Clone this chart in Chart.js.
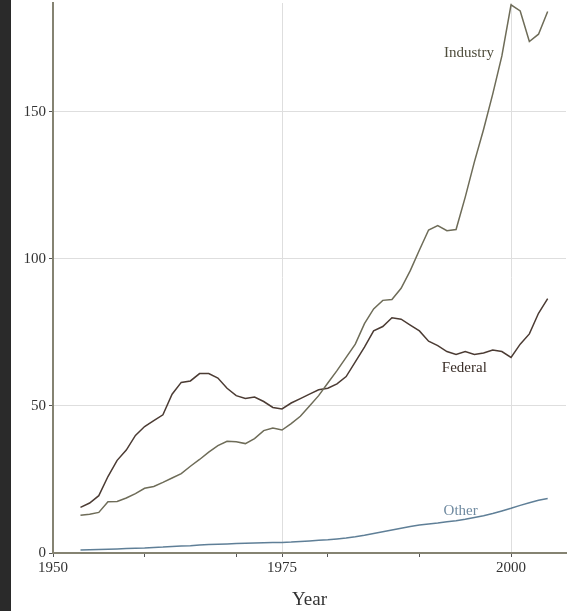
<!DOCTYPE html>
<html>
<head>
<meta charset="utf-8">
<script src="https://cdn.jsdelivr.net/npm/chart.js@4"></script>
<style>
  html, body { margin: 0; padding: 0; background: #fff; }
  #wrap { position: relative; width: 567px; height: 611px; }
  #edge { position: absolute; left: 0; top: 0; width: 11px; height: 611px; background: #2a2a2a; }
</style>
</head>
<body>
<div id="wrap">
  <canvas id="rdChart" width="567" height="611"></canvas>
  <div id="edge"></div>
</div>
<script>
const years = [
  1953, 1954, 1955, 1956, 1957, 1958, 1959, 1960, 1961, 1962,
  1963, 1964, 1965, 1966, 1967, 1968, 1969, 1970, 1971, 1972,
  1973, 1974, 1975, 1976, 1977, 1978, 1979, 1980, 1981, 1982,
  1983, 1984, 1985, 1986, 1987, 1988, 1989, 1990, 1991, 1992,
  1993, 1994, 1995, 1996, 1997, 1998, 1999, 2000, 2001, 2002,
  2003, 2004
];

const industry = [
  12.8, 13.2, 13.8, 17.4, 17.5, 18.7, 20.2, 22.0, 22.6, 24.0,
  25.5, 27.0, 29.5, 31.8, 34.3, 36.5, 38.0, 37.8, 37.2, 38.9,
  41.6, 42.5, 41.8, 44.0, 46.5, 50.0, 53.5, 57.8, 62.0, 66.5,
  71.0, 78.0, 83.0, 85.9, 86.2, 90.0, 96.0, 103.0, 109.8, 111.3,
  109.6, 110.0, 121.0, 133.0, 144.0, 156.0, 169.0, 186.4, 184.3, 173.9,
  176.4, 184.1
];

const federal = [
  15.5, 17.0, 19.5, 26.0, 31.5, 35.0, 40.0, 43.0, 45.0, 47.0,
  54.0, 58.0, 58.5, 61.0, 61.0, 59.5, 56.0, 53.5, 52.5, 53.0,
  51.5, 49.5, 49.0, 51.0, 52.5, 54.0, 55.5, 56.0, 57.5, 60.0,
  65.0, 70.0, 75.5, 77.0, 80.0, 79.5, 77.5, 75.5, 72.0, 70.5,
  68.5, 67.5, 68.5, 67.5, 68.0, 69.0, 68.5, 66.5, 71.0, 74.5,
  81.5, 86.5
];

const other = [
  1.0, 1.1, 1.2, 1.3, 1.4, 1.5, 1.6, 1.7, 1.9, 2.0,
  2.2, 2.4, 2.5, 2.7, 2.9, 3.0, 3.1, 3.2, 3.3, 3.4,
  3.5, 3.6, 3.6, 3.7, 3.9, 4.1, 4.3, 4.5, 4.8, 5.1,
  5.5, 6.0, 6.6, 7.2, 7.8, 8.4, 9.0, 9.5, 9.9, 10.2,
  10.6, 11.0, 11.5, 12.1, 12.7, 13.4, 14.3, 15.2, 16.2, 17.1,
  17.9, 18.5
];

const xTicks = [1950, 1960, 1970, 1975, 1980, 1990, 2000];
const xLabelled = [1950, 1975, 2000];
const yTicks = [0, 50, 100, 150];

const serif = '"Liberation Serif", "DejaVu Serif", serif';
const axisColor = '#858372';
const gridColor = '#dedede';

const toPoints = (vals) => vals.map((v, i) => ({ x: years[i], y: v }));

// series names written next to their lines, anchored in data units
const seriesLabels = {
  id: 'seriesLabels',
  afterDatasetsDraw(chart) {
    const { ctx, scales: { x, y } } = chart;
    const items = [
      { text: 'Industry', year: 1995.4, value: 170, color: '#4f4d3c' },
      { text: 'Federal', year: 1994.9, value: 62.8, color: '#3a2e28' },
      { text: 'Other', year: 1994.5, value: 14.3, color: '#6f8aa0' }
    ];
    ctx.save();
    ctx.font = '15px ' + serif;
    ctx.textAlign = 'center';
    ctx.textBaseline = 'middle';
    items.forEach(item => {
      ctx.fillStyle = item.color;
      ctx.fillText(item.text, x.getPixelForValue(item.year), y.getPixelForValue(item.value));
    });
    ctx.restore();
  }
};

const ctx = document.getElementById('rdChart').getContext('2d');

new Chart(ctx, {
  type: 'line',
  data: {
    datasets: [
      { label: 'Industry', data: toPoints(industry), borderColor: '#6e6c58' },
      { label: 'Federal', data: toPoints(federal), borderColor: '#4b3b33' },
      { label: 'Other', data: toPoints(other), borderColor: '#5f7f97' }
    ]
  },
  options: {
    responsive: false,
    devicePixelRatio: 1,
    animation: false,
    layout: { padding: { top: 3, right: 1, left: 0, bottom: 0 } },
    elements: {
      point: { radius: 0 },
      line: { borderWidth: 1.5, tension: 0 }
    },
    plugins: {
      legend: { display: false },
      tooltip: { enabled: false }
    },
    scales: {
      x: {
        type: 'linear',
        min: 1950,
        max: 2006,
        afterBuildTicks: (scale) => { scale.ticks = xTicks.map(v => ({ value: v })); },
        afterFit: (scale) => { scale.height = 58; },
        border: { color: axisColor, width: 2 },
        grid: {
          color: (c) => (c.tick && (c.tick.value === 1975 || c.tick.value === 2000)) ? gridColor : 'rgba(0,0,0,0)',
          tickColor: '#555',
          tickLength: 4
        },
        ticks: {
          autoSkip: false,
          maxRotation: 0,
          padding: 2,
          color: '#333',
          font: { family: serif, size: 15 },
          callback: (v) => xLabelled.includes(v) ? String(v) : ''
        },
        title: {
          display: true,
          text: 'Year',
          color: '#333',
          font: { family: serif, size: 19 },
          padding: { top: 0, bottom: 0 }
        }
      },
      y: {
        min: 0,
        max: 187,
        afterBuildTicks: (scale) => { scale.ticks = yTicks.map(v => ({ value: v })); },
        afterFit: (scale) => {
          scale.width = 53;
          // the top tick sits well below the axis end, so no label overhang is needed
          scale.paddingTop = 0;
          scale.paddingBottom = 0;
        },
        border: { color: axisColor, width: 2 },
        grid: {
          color: (c) => (c.tick && c.tick.value === 0) ? 'rgba(0,0,0,0)' : gridColor,
          tickColor: '#555',
          tickLength: 4
        },
        ticks: {
          padding: 3,
          color: '#333',
          font: { family: serif, size: 15 }
        }
      }
    }
  },
  plugins: [seriesLabels]
});
</script>
</body>
</html>
